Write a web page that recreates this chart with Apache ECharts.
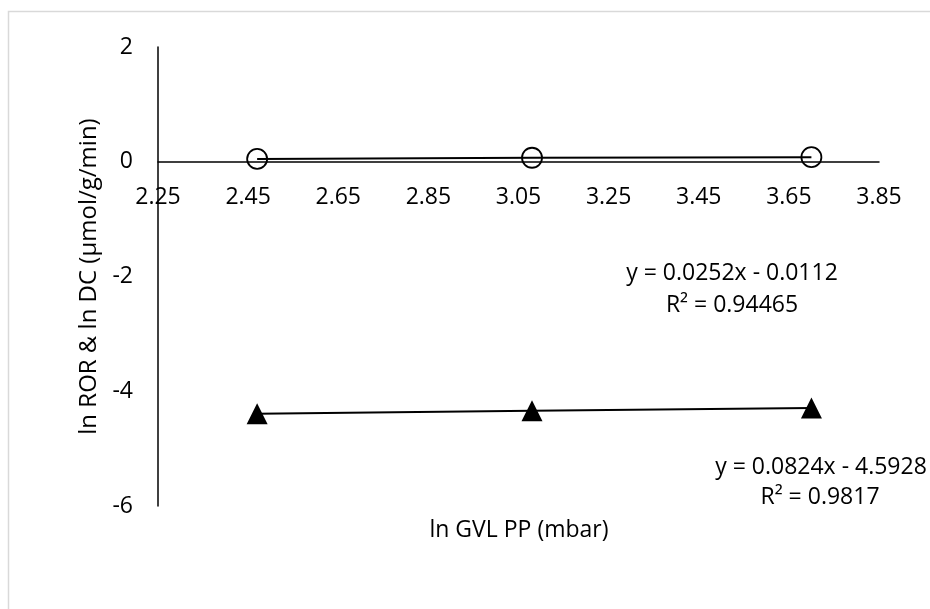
<!DOCTYPE html>
<html>
<head>
<meta charset="utf-8">
<script src="https://cdn.jsdelivr.net/npm/echarts@6/dist/echarts.min.js"></script>
<style>
html,body{margin:0;padding:0;background:#fff;}
#chart{width:930px;height:609px;}
</style>
</head>
<body>
<div id="chart"></div>
<script>
// Data
var xValues = [2.47, 3.08, 3.70];           // ln GVL PP (mbar)
var rorValues = [0.05, 0.07, 0.08];         // circles (ln ROR)
var dcValues = [-4.39, -4.34, -4.29];       // triangles (ln DC)
var xTicks = [2.25, 2.45, 2.65, 2.85, 3.05, 3.25, 3.45, 3.65, 3.85];
var yTicks = [-6, -4, -2, 0, 2];
var xTitle = 'ln GVL PP (mbar)';
var yTitle = 'ln ROR & ln DC (μmol/g/min)';
var eqRor = ['y = 0.0252x - 0.0112', 'R² = 0.94465'];
var eqDc = ['y = 0.0824x - 4.5928', 'R² = 0.9817'];

function pairs(xs, ys) { return xs.map(function (x, i) { return [x, ys[i]]; }); }

var FONT = '"Open Sans", "Noto Sans", sans-serif';
var GRID_TOP = 47, GRID_BOTTOM = 103, H = 609;
var gridH = H - GRID_TOP - GRID_BOTTOM;
var yMin = yTicks[0], yMax = yTicks[yTicks.length - 1];
// x axis crosses the y axis at 0
var zeroOffset = -gridH * (0 - yMin) / (yMax - yMin);

var chart = echarts.init(document.getElementById('chart'));
chart.setOption({
  animation: false,
  backgroundColor: '#fff',
  grid: { left: 158, right: 51, top: GRID_TOP, bottom: GRID_BOTTOM, containLabel: false },
  xAxis: {
    type: 'value',
    position: 'bottom',
    offset: zeroOffset,
    min: xTicks[0],
    max: xTicks[xTicks.length - 1],
    axisLine: { onZero: false, lineStyle: { color: '#000', width: 1.5 } },
    axisTick: { show: false },
    splitLine: { show: false },
    axisLabel: {
      customValues: xTicks,
      formatter: function (v) { return v.toFixed(2); },
      color: '#000', fontFamily: FONT, fontSize: 23, margin: 24
    }
  },
  yAxis: {
    type: 'value',
    min: yMin, max: yMax, interval: 2,
    axisLine: { show: true, onZero: false, lineStyle: { color: '#000', width: 1.5 } },
    axisTick: { show: false },
    splitLine: { show: false },
    axisLabel: { color: '#000', fontFamily: FONT, fontSize: 23, margin: 25 },
    name: yTitle,
    nameLocation: 'middle',
    nameRotate: 90,
    nameGap: 55,
    nameTextStyle: { color: '#000', fontFamily: FONT, fontSize: 24 }
  },
  series: [
    {
      type: 'line',
      data: pairs(xValues, rorValues),
      symbol: 'circle',
      symbolSize: 20,
      itemStyle: { color: 'rgba(0,0,0,0)', borderColor: '#000', borderWidth: 1.8 },
      lineStyle: { color: '#000', width: 2 },
      z: 3
    },
    {
      type: 'line',
      data: pairs(xValues, dcValues),
      symbol: 'triangle',
      symbolSize: [21, 21],
      itemStyle: { color: '#000' },
      lineStyle: { color: '#000', width: 2 },
      z: 3
    }
  ],
  graphic: [
    { type: 'rect', silent: true, shape: { x: 8.5, y: 11.5, width: 940, height: 620 },
      style: { fill: 'none', stroke: '#d9d9d9', lineWidth: 1.5 } },
    { type: 'text', x: 519, y: 530, style: { text: xTitle, font: '23px ' + FONT, fill: '#000', align: 'center', verticalAlign: 'middle' } },
    { type: 'text', x: 732, y: 273, style: { text: eqRor[0], font: '23px ' + FONT, fill: '#000', align: 'center', verticalAlign: 'middle' } },
    { type: 'text', x: 732, y: 305, style: { text: eqRor[1], font: '23px ' + FONT, fill: '#000', align: 'center', verticalAlign: 'middle' } },
    { type: 'text', x: 821, y: 467, style: { text: eqDc[0], font: '23px ' + FONT, fill: '#000', align: 'center', verticalAlign: 'middle' } },
    { type: 'text', x: 820, y: 497, style: { text: eqDc[1], font: '23px ' + FONT, fill: '#000', align: 'center', verticalAlign: 'middle' } }
  ]
});
</script>
</body>
</html>
